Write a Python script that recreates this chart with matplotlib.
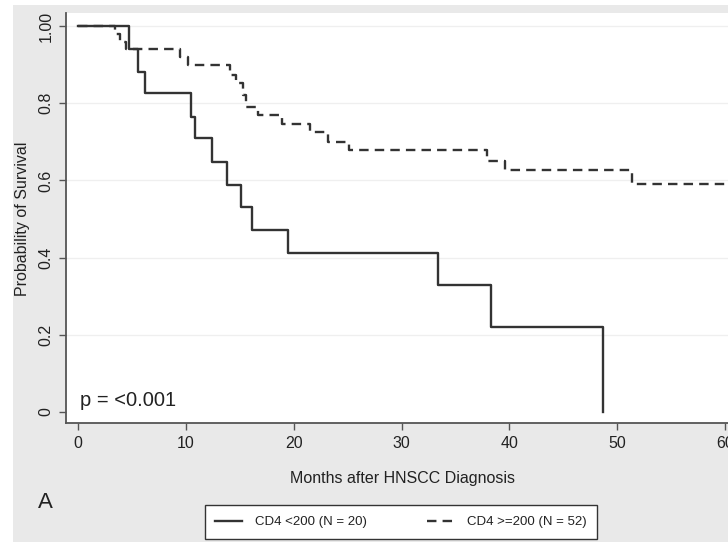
import matplotlib
matplotlib.use("Agg")
import matplotlib.pyplot as plt
from matplotlib import font_manager
from matplotlib.patches import Rectangle

# pick a narrow sans if we have one
names = {f.name for f in font_manager.fontManager.ttflist}
fam = "Liberation Sans Narrow" if "Liberation Sans Narrow" in names else "Liberation Sans"
plt.rcParams["font.family"] = [fam, "DejaVu Sans"]

# Kaplan-Meier steps
low_t = [0, 4.7, 5.6, 6.2, 10.5, 10.85, 12.4, 13.8, 15.1, 16.1, 19.5, 33.4, 38.3, 48.7]
low_s = [1.0, 0.94, 0.88, 0.826, 0.765, 0.71, 0.648, 0.588, 0.532, 0.471, 0.413, 0.329, 0.221, 0.0]

high_t = [0, 3.4, 3.9, 4.5, 9.5, 10.2, 14.1, 14.7, 15.3, 15.6, 16.7, 18.9, 21.5, 23.2, 25.1,
          37.9, 39.6, 51.4, 64]
high_s = [1.0, 0.98, 0.96, 0.942, 0.92, 0.899, 0.873, 0.852, 0.821, 0.79, 0.769, 0.746, 0.726,
          0.70, 0.679, 0.65, 0.627, 0.592, 0.592]

xticks = [0, 10, 20, 30, 40, 50, 60]
yticks = [0, 0.2, 0.4, 0.6, 0.8, 1.0]
ylabels = ["0", "0.2", "0.4", "0.6", "0.8", "1.00"]

W, H = 728, 542
fig = plt.figure(figsize=(W / 100, H / 100), dpi=100)
fig.patch.set_facecolor("white")
# stata-ish grey graph region, kept behind everything
bg = Rectangle((13 / W, 0), 1, 1 - 5 / H, transform=fig.transFigure,
               facecolor="#e9e9e9", edgecolor="none", zorder=-10)
fig.patches.append(bg)

ax = fig.add_axes([66 / W, 1 - 423 / H, (737 - 66) / W, (423 - 13) / H])
ax.set_facecolor("white")
ax.set_xlim(-1.1, 61.1)
ax.set_ylim(-0.0285, 1.034)

line_col = "#333333"
ax.step(low_t, low_s, where="post", color=line_col, lw=1.7, label="CD4 <200 (N = 20)")
ax.step(high_t, high_s, where="post", color=line_col, lw=1.7, linestyle=(0, (4, 2.6)),
        label="CD4 >=200 (N = 52)")

for y in yticks[1:]:
    ax.axhline(y, color="#efefef", lw=0.9, zorder=0)

for s in ["top", "right"]:
    ax.spines[s].set_visible(False)
for s in ["left", "bottom"]:
    ax.spines[s].set_color("#555555")
    ax.spines[s].set_linewidth(1.3)

ax.set_xticks(xticks)
ax.set_yticks(yticks)
ax.set_yticklabels(ylabels, rotation=90, va="center")
ax.tick_params(axis="both", direction="out", length=5, width=1, color="#555555",
               labelsize=11.5, labelcolor="#222222")
ax.tick_params(axis="x", pad=4)
ax.tick_params(axis="y", pad=4)

ax.set_xlabel("Months after HNSCC Diagnosis", fontsize=11.5, color="#222222")
ax.set_ylabel("Probability of Survival", fontsize=11.5, color="#222222")
ax.xaxis.set_label_coords((402 - 66) / (737 - 66), -(471 - 423) / (423 - 13))
ax.yaxis.set_label_coords(-(66 - 30) / (737 - 66), (423 - 219) / (423 - 13))

ax.text(0.2, 0.005, "p = <0.001", fontsize=14.5, color="#222222", va="bottom", ha="left")

fig.text(38 / W, 1 - 502 / H, "A", fontsize=16, color="#222222", ha="left", va="center")

leg = fig.legend(loc="center", bbox_to_anchor=(401 / W, 1 - 522 / H), ncol=2,
                 fontsize=9.5, frameon=True, fancybox=False, handlelength=2.0,
                 columnspacing=4.6, handletextpad=1.0, borderpad=0.8, borderaxespad=0)
leg.get_frame().set_edgecolor("#333333")
leg.get_frame().set_facecolor("white")
leg.get_frame().set_alpha(1.0)
leg.get_frame().set_linewidth(1.0)
for t in leg.get_texts():
    t.set_color("#222222")

fig.savefig("out.png", dpi=100, facecolor="white")
